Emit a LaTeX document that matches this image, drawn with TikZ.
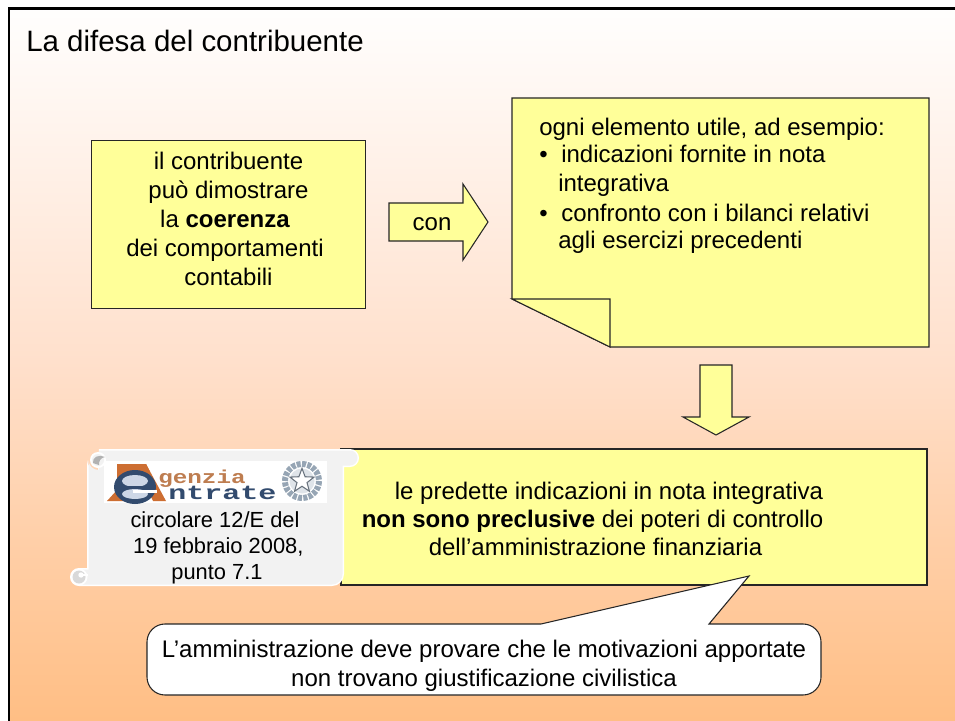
\documentclass[tikz,border=0pt]{standalone}
\usepackage{fontspec}
\usetikzlibrary{shapes.geometric}
\setmainfont{Liberation Sans}
\newfontfamily\logoa[FakeStretch=1.3]{Liberation Mono}
\newfontfamily\logob[FakeStretch=1.5]{Liberation Mono}
\definecolor{noteyellow}{RGB}{255,255,153}
\definecolor{bgtop}{RGB}{255,255,255}
\definecolor{bgmid}{RGB}{255,224,204}
\definecolor{bgbot}{RGB}{255,190,132}
\definecolor{scroll}{RGB}{242,242,242}
\definecolor{logoorange}{RGB}{205,110,50}
\definecolor{logotext}{RGB}{190,125,80}
\definecolor{logoblue}{RGB}{50,75,110}
\definecolor{logolight}{RGB}{205,215,230}
\definecolor{emblem}{RGB}{150,165,180}
\tikzset{
  yellowbox/.style={draw=black!85,line width=0.8pt,fill=noteyellow,line join=miter},
  body/.style={font=\fontsize{18}{21.7}\selectfont,align=center,inner sep=0pt,text=black},
  bodyl/.style={font=\fontsize{18}{21.7}\selectfont,align=left,inner sep=0pt,text=black,anchor=base west},
}
\begin{document}
\begin{tikzpicture}[x=0.75pt,y=-0.75pt]
\useasboundingbox (0,0) rectangle (955,720);
\shade[top color=bgtop,bottom color=bgbot,middle color=bgmid] (0,0) rectangle (955,722);
\fill[white] (0,0) rectangle (955,8);
\fill[white] (0,0) rectangle (8,722);
\draw[black,line width=2pt] (9,730) -- (9,8.5) -- (960,8.5);
\node[anchor=west,inner sep=0pt,font=\fontsize{22.1}{26}\selectfont] (title) at (26,41) {La difesa del contribuente};

\node[yellowbox,minimum width=274*0.75pt,minimum height=168*0.75pt,inner sep=0pt] (left) at (228.5,224.5) {};
\node[body] (lefttext) at (225,219) {\hspace*{5.25pt}il contribuente\\\hspace*{5.25pt}può dimostrare\\la \textbf{coerenza}\\dei comportamenti\\\hspace*{5.25pt}contabili};

\draw[yellowbox] (389,203) -- (463,203) -- (463,184) -- (488,222) -- (463,260) -- (463,241) -- (389,241) -- cycle;
\node[body] (con) at (432,224) {con};

\draw[yellowbox] (512,98) -- (929,98) -- (929,347) -- (610,347) -- (512,299) -- cycle;
\draw[yellowbox] (512,299) -- (610,299) -- (610,347) -- cycle;
\node[bodyl] (n1) at (539,136) {ogni elemento utile, ad esempio:};
\node[bodyl] (b1) at (539,163) {•};
\node[bodyl] (n2) at (561,163) {indicazioni fornite in nota};
\node[bodyl] (n3) at (558,191) {integrativa};
\node[bodyl] (b2) at (539,221) {•};
\node[bodyl] (n4) at (561,221) {confronto con i bilanci relativi};
\node[bodyl] (n5) at (558,248) {agli esercizi precedenti};

\draw[yellowbox] (700,365) -- (732,365) -- (732,417) -- (749,417) -- (716,435) -- (683,417) -- (700,417) -- cycle;

\node[yellowbox,minimum width=586*0.75pt,minimum height=136*0.75pt,inner sep=0pt] (main) at (634,517) {};
\node[body,font=\fontsize{18}{21}\selectfont] (maintext) at (592.5,519) {\hspace*{24.75pt}le predette indicazioni in nota integrativa\\\textbf{non sono preclusive} dei poteri di controllo\\\hspace*{4.5pt}dell’amministrazione finanziaria};

% scroll
\fill[white] (99,449) -- (350,449) arc[start angle=-90,end angle=90,radius=9] -- (344,467) -- (344,574) arc[start angle=0,end angle=90,radius=12] -- (79,586) arc[start angle=90,end angle=270,radius=9] -- (87,568) -- (87,460) arc[start angle=180,end angle=90,radius=11] -- cycle;
\fill[scroll] (99,450.5) -- (350,450.5) arc[start angle=-90,end angle=90,radius=7.5] -- (342.5,465.5) -- (342.5,574) arc[start angle=0,end angle=90,radius=10.5] -- (79,584.5) arc[start angle=90,end angle=270,radius=7.5] -- (88.5,569.5) -- (88.5,460) arc[start angle=180,end angle=90,radius=10] -- cycle;
\fill[white] (98,460) circle (8);
\fill[scroll] (98,460) circle (6);
\fill[gray!60] (93,463) .. controls (92,457) and (99,454) .. (105,457) .. controls (100,458) and (99,461) .. (99,465) -- cycle;
\fill[white] (79,577) circle (8.5);
\fill[gray!30] (79,577) circle (6.5);
\fill[white] (81,575) circle (2.7);
\fill[white] (83,573.5) rectangle (88,576);

% logo
\fill[white] (104,461) rectangle (327,503);
\fill[logoorange] (107,501) -- (117,490) -- (117,464) -- (146,464) -- (166,501) -- (153,501) -- (146,487) -- (125,487) -- (127,501) -- cycle;
\fill[white] (104,461) -- (117,461) -- (117,464) -- (108,490) -- (104,490) -- cycle;
\fill[logoorange] (125,472) -- (117,464) -- (146,464) -- (150,472) -- cycle;
\fill[logoblue] (135,487) ellipse (21 and 17);
\fill[logolight] (135,481) ellipse (13 and 6);
\fill[logolight] (135,494) ellipse (13 and 5);
\fill[logoblue] (118,486) rectangle (150,488);
\fill[white] (133,489.5) rectangle (157,493);
\node[anchor=base west,inner sep=0pt,text=logotext,font=\logoa\bfseries\fontsize{14}{14}\selectfont] (genzia) at (158,483) {genzia};
\node[anchor=base west,inner sep=0pt,text=logoblue,font=\logob\bfseries\fontsize{15}{15}\selectfont] (ntrate) at (168,499) {ntrate};
\draw[emblem,line width=4.5pt,dash pattern=on 3pt off 1pt] (302,481) circle (17);
\fill[emblem!30!white] (302,481) circle (12.5);
\node[star,star points=5,star point ratio=2.4,fill=white,draw=emblem!70!black,line width=0.8pt,minimum size=19pt,inner sep=0pt] (stella) at (302,481) {};

\node[body,font=\fontsize{16.4}{19.5}\selectfont] (circ) at (217,548) {circolare 12/E del\hspace*{3pt}\\\hspace*{2pt}19 febbraio 2008,\\punto 7.1};

% callout
\draw[draw=black!85,line width=0.8pt,fill=white]
 (167,624) -- (541,624) -- (749,576) -- (709,624) -- (803,624)
 arc[start angle=-90,end angle=0,radius=18] -- (821,677)
 arc[start angle=0,end angle=90,radius=18] -- (165,695)
 arc[start angle=90,end angle=180,radius=18] -- (147,642)
 arc[start angle=180,end angle=270,radius=18] -- cycle;
\node[body,font=\fontsize{18}{22}\selectfont] (calltext) at (484,666) {L’amministrazione deve provare che le motivazioni apportate\\non trovano giustificazione civilistica};
\end{tikzpicture}
\end{document}
